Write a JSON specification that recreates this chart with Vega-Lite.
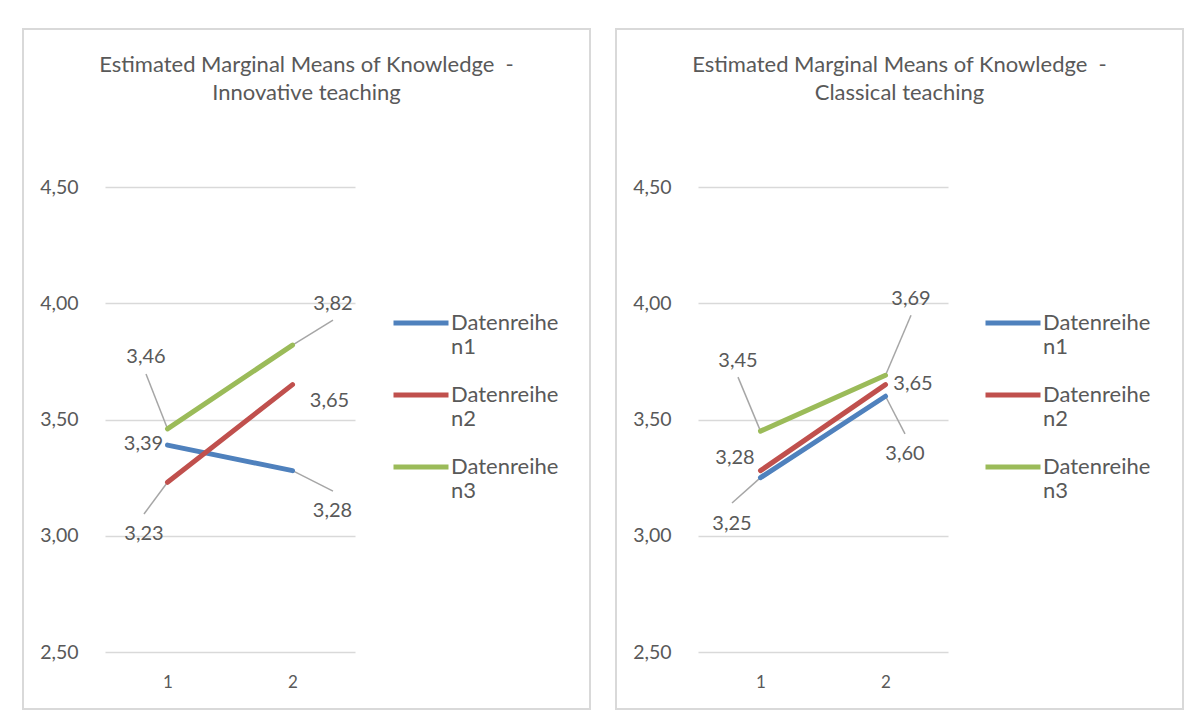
{
  "$schema": "https://vega.github.io/schema/vega-lite/v6.json",
  "padding": {"left": 22, "top": 28, "right": 6, "bottom": 4},
  "background": "white",
  "config": {
    "locale": {"number": {"decimal": ",", "thousands": ".", "grouping": [3], "currency": ["", " €"]}},
    "view": {"stroke": "#d9d9d9", "strokeWidth": 2},
    "font": "Lato",
    "concat": {"spacing": 24},
    "text": {"font": "Lato", "fontSize": 20, "fill": "#595959", "align": "center", "baseline": "middle"},
    "title": {"font": "Lato", "fontSize": 22, "fontWeight": "normal", "color": "#595959", "lineHeight": 28, "anchor": "middle", "offset": -76},
    "axis": {"labelFont": "Lato", "labelColor": "#595959", "title": null, "domain": false, "ticks": false, "tickSize": 0, "gridColor": "#d9d9d9", "gridWidth": 1.5},
    "legend": {"labelFont": "Lato", "labelColor": "#595959", "labelFontSize": 22, "title": null, "orient": "none", "symbolType": "stroke", "symbolSize": 3025, "symbolStrokeWidth": 5, "labelOffset": 0, "rowPadding": 7, "labelLimit": 300}
  },
  "datasets": {
    "innov": [
      {"series": "Datenreihen1", "x": 1, "y": 3.39},
      {"series": "Datenreihen1", "x": 2, "y": 3.28},
      {"series": "Datenreihen2", "x": 1, "y": 3.23},
      {"series": "Datenreihen2", "x": 2, "y": 3.65},
      {"series": "Datenreihen3", "x": 1, "y": 3.46},
      {"series": "Datenreihen3", "x": 2, "y": 3.82}
    ],
    "class": [
      {"series": "Datenreihen1", "x": 1, "y": 3.25},
      {"series": "Datenreihen1", "x": 2, "y": 3.60},
      {"series": "Datenreihen2", "x": 1, "y": 3.28},
      {"series": "Datenreihen2", "x": 2, "y": 3.65},
      {"series": "Datenreihen3", "x": 1, "y": 3.45},
      {"series": "Datenreihen3", "x": 2, "y": 3.69}
    ]
  },
  "resolve": {"legend": {"color": "independent"}},
  "hconcat": [
    {
      "width": 567,
      "height": 680,
      "title": {"text": ["Estimated Marginal Means of Knowledge \u00a0-", "Innovative teaching"]},
      "data": {"name": "innov"},
      "encoding": {
        "x": {"field": "x", "type": "quantitative", "scale": {"domain": [0.5, 2.5], "range": [82, 332], "nice": false, "zero": false},
              "axis": {"values": [1, 2], "format": "d", "grid": false, "offset": -57, "labelPadding": 22, "labelFontSize": 17}},
        "y": {"field": "y", "type": "quantitative", "scale": {"domain": [2.5, 4.5], "range": [623, 158], "nice": false, "zero": false},
              "axis": {"values": [2.5, 3, 3.5, 4, 4.5], "format": ".2f", "offset": -55, "labelPadding": 0, "labelFontSize": 19.5}}
      },
      "layer": [
        {"transform": [{"filter": "datum.series === 'Datenreihen1' && datum.x === 2"}],
         "mark": {"type": "rule", "color": "#a6a6a6", "strokeWidth": 1.5, "x2Offset": 40.5, "y2Offset": 20.4},
         "encoding": {"x2": {"field": "x"}, "y2": {"field": "y"}}},
        {"transform": [{"filter": "datum.series === 'Datenreihen2' && datum.x === 1"}],
         "mark": {"type": "rule", "color": "#a6a6a6", "strokeWidth": 1.5, "x2Offset": -23.5, "y2Offset": 31.7},
         "encoding": {"x2": {"field": "x"}, "y2": {"field": "y"}}},
        {"transform": [{"filter": "datum.series === 'Datenreihen3' && datum.x === 1"}],
         "mark": {"type": "rule", "color": "#a6a6a6", "strokeWidth": 1.5, "x2Offset": -21.5, "y2Offset": -54.8},
         "encoding": {"x2": {"field": "x"}, "y2": {"field": "y"}}},
        {"transform": [{"filter": "datum.series === 'Datenreihen3' && datum.x === 2"}],
         "mark": {"type": "rule", "color": "#a6a6a6", "strokeWidth": 1.5, "x2Offset": 40.5, "y2Offset": -25},
         "encoding": {"x2": {"field": "x"}, "y2": {"field": "y"}}},
        {"mark": {"type": "line", "strokeWidth": 5, "strokeCap": "round"},
         "encoding": {"color": {"field": "series", "type": "nominal",
           "scale": {"domain": ["Datenreihen1", "Datenreihen2", "Datenreihen3"], "range": ["#4f81bd", "#c0504d", "#9bbb59"]},
           "legend": {"legendX": 368, "legendY": 264, "labelExpr": "[slice(datum.label, 0, 10), slice(datum.label, 10)]"}}}},
        {"transform": [{"filter": "datum.series === 'Datenreihen1' && datum.x === 1"}],
         "mark": {"type": "text", "dx": -24, "dy": -1}, "encoding": {"text": {"field": "y", "type": "quantitative", "format": ".2f"}}},
        {"transform": [{"filter": "datum.series === 'Datenreihen1' && datum.x === 2"}],
         "mark": {"type": "text", "dx": 40, "dy": 40}, "encoding": {"text": {"field": "y", "type": "quantitative", "format": ".2f"}}},
        {"transform": [{"filter": "datum.series === 'Datenreihen2' && datum.x === 1"}],
         "mark": {"type": "text", "dx": -23.5, "dy": 52}, "encoding": {"text": {"field": "y", "type": "quantitative", "format": ".2f"}}},
        {"transform": [{"filter": "datum.series === 'Datenreihen2' && datum.x === 2"}],
         "mark": {"type": "text", "dx": 37, "dy": 16}, "encoding": {"text": {"field": "y", "type": "quantitative", "format": ".2f"}}},
        {"transform": [{"filter": "datum.series === 'Datenreihen3' && datum.x === 1"}],
         "mark": {"type": "text", "dx": -21.5, "dy": -72}, "encoding": {"text": {"field": "y", "type": "quantitative", "format": ".2f"}}},
        {"transform": [{"filter": "datum.series === 'Datenreihen3' && datum.x === 2"}],
         "mark": {"type": "text", "dx": 40.5, "dy": -41}, "encoding": {"text": {"field": "y", "type": "quantitative", "format": ".2f"}}}
      ]
    },
    {
      "width": 567,
      "height": 680,
      "title": {"text": ["Estimated Marginal Means of Knowledge \u00a0-", "Classical teaching"]},
      "data": {"name": "class"},
      "encoding": {
        "x": {"field": "x", "type": "quantitative", "scale": {"domain": [0.5, 2.5], "range": [82, 332], "nice": false, "zero": false},
              "axis": {"values": [1, 2], "format": "d", "grid": false, "offset": -57, "labelPadding": 22, "labelFontSize": 17}},
        "y": {"field": "y", "type": "quantitative", "scale": {"domain": [2.5, 4.5], "range": [623, 158], "nice": false, "zero": false},
              "axis": {"values": [2.5, 3, 3.5, 4, 4.5], "format": ".2f", "offset": -55, "labelPadding": 0, "labelFontSize": 19.5}}
      },
      "layer": [
        {"transform": [{"filter": "datum.series === 'Datenreihen1' && datum.x === 1"}],
         "mark": {"type": "rule", "color": "#a6a6a6", "strokeWidth": 1.5, "x2Offset": -28.5, "y2Offset": 25.4},
         "encoding": {"x2": {"field": "x"}, "y2": {"field": "y"}}},
        {"transform": [{"filter": "datum.series === 'Datenreihen1' && datum.x === 2"}],
         "mark": {"type": "rule", "color": "#a6a6a6", "strokeWidth": 1.5, "x2Offset": 19.5, "y2Offset": 37.7},
         "encoding": {"x2": {"field": "x"}, "y2": {"field": "y"}}},
        {"transform": [{"filter": "datum.series === 'Datenreihen3' && datum.x === 1"}],
         "mark": {"type": "rule", "color": "#a6a6a6", "strokeWidth": 1.5, "x2Offset": -22.5, "y2Offset": -54},
         "encoding": {"x2": {"field": "x"}, "y2": {"field": "y"}}},
        {"transform": [{"filter": "datum.series === 'Datenreihen3' && datum.x === 2"}],
         "mark": {"type": "rule", "color": "#a6a6a6", "strokeWidth": 1.5, "x2Offset": 25.5, "y2Offset": -60},
         "encoding": {"x2": {"field": "x"}, "y2": {"field": "y"}}},
        {"mark": {"type": "line", "strokeWidth": 5, "strokeCap": "round"},
         "encoding": {"color": {"field": "series", "type": "nominal",
           "scale": {"domain": ["Datenreihen1", "Datenreihen2", "Datenreihen3"], "range": ["#4f81bd", "#c0504d", "#9bbb59"]},
           "legend": {"legendX": 367, "legendY": 264, "labelExpr": "[slice(datum.label, 0, 10), slice(datum.label, 10)]"}}}},
        {"transform": [{"filter": "datum.series === 'Datenreihen1' && datum.x === 1"}],
         "mark": {"type": "text", "dx": -28.5, "dy": 46.4}, "encoding": {"text": {"field": "y", "type": "quantitative", "format": ".2f"}}},
        {"transform": [{"filter": "datum.series === 'Datenreihen1' && datum.x === 2"}],
         "mark": {"type": "text", "dx": 19.5, "dy": 57.7}, "encoding": {"text": {"field": "y", "type": "quantitative", "format": ".2f"}}},
        {"transform": [{"filter": "datum.series === 'Datenreihen2' && datum.x === 1"}],
         "mark": {"type": "text", "dx": -25.5, "dy": -12.6}, "encoding": {"text": {"field": "y", "type": "quantitative", "format": ".2f"}}},
        {"transform": [{"filter": "datum.series === 'Datenreihen2' && datum.x === 2"}],
         "mark": {"type": "text", "dx": 27.5, "dy": -0.6}, "encoding": {"text": {"field": "y", "type": "quantitative", "format": ".2f"}}},
        {"transform": [{"filter": "datum.series === 'Datenreihen3' && datum.x === 1"}],
         "mark": {"type": "text", "dx": -22.5, "dy": -70}, "encoding": {"text": {"field": "y", "type": "quantitative", "format": ".2f"}}},
        {"transform": [{"filter": "datum.series === 'Datenreihen3' && datum.x === 2"}],
         "mark": {"type": "text", "dx": 25.5, "dy": -76}, "encoding": {"text": {"field": "y", "type": "quantitative", "format": ".2f"}}}
      ]
    }
  ]
}
